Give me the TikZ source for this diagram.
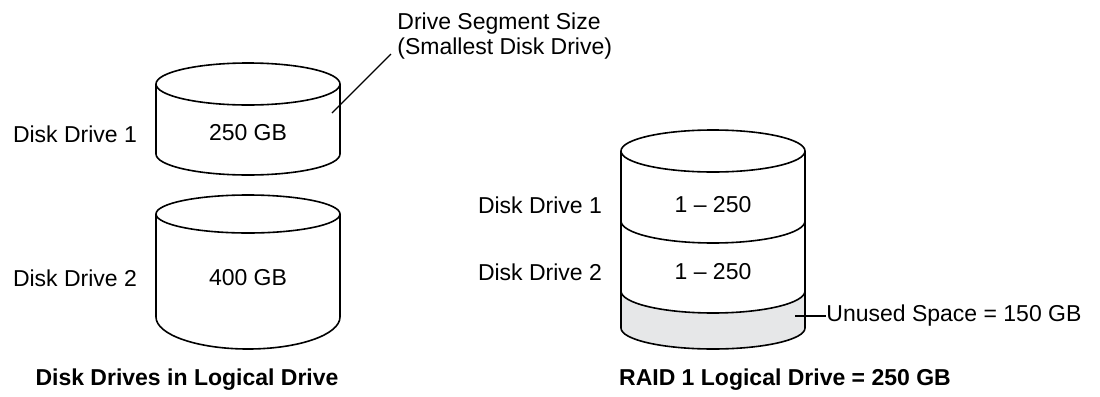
\documentclass[tikz,border=0pt]{standalone}
\usepackage{fontspec}
\setmainfont{Liberation Sans}
\usepackage{xcolor}
\usepackage{tikz}
\usetikzlibrary{positioning, calc}
\definecolor{unusedgray}{HTML}{E6E7E8}
\tikzstyle{disk} = [line width=0.8pt, draw=black, line join=round]
\tikzstyle{label} = [inner sep=0pt, font=\fontsize{11.5}{12.5}\selectfont]
\tikzstyle{caption} = [inner sep=0pt, font=\fontsize{11.5}{12.5}\selectfont\bfseries]
\tikzstyle{leader} = [line width=0.6pt]

\begin{document}
\begin{tikzpicture}[x=0.5pt, y=-0.5pt]
\useasboundingbox (0,0) rectangle (1100,397);

    % Disk Drive 1 (left)
    \draw [disk] (156,84) -- (156,154) arc[start angle=180, end angle=360, x radius=46pt, y radius=10.5pt] -- (340,84);
    \draw [disk] (248,84) ellipse [x radius=46pt, y radius=10.5pt];

    % Disk Drive 2 (left)
    \draw [disk] (156,214) -- (156,317) arc[start angle=180, end angle=360, x radius=46pt, y radius=16pt] -- (340,214);
    \draw [disk] (248,214) ellipse [x radius=46pt, y radius=9.5pt];

    % RAID 1 logical drive (right)
    \fill [unusedgray] (621,291) arc[start angle=180, end angle=360, x radius=46pt, y radius=11pt] -- (805,328) arc[start angle=360, end angle=180, x radius=46pt, y radius=10.5pt] -- cycle;
    \draw [disk] (621,151) -- (621,328) arc[start angle=180, end angle=360, x radius=46pt, y radius=10.5pt] -- (805,151);
    \draw [disk] (713,151) ellipse [x radius=46pt, y radius=10.5pt];
    \draw [disk] (621,221) arc[start angle=180, end angle=360, x radius=46pt, y radius=11pt];
    \draw [disk] (621,291) arc[start angle=180, end angle=360, x radius=46pt, y radius=11pt];

    % Labels (left)
    \node (dd1L) [label] at (75,134) {Disk Drive 1};
    \node (size1) [label] at (248,133) {250 GB};
    \node (dd2L) [label] at (75,278) {Disk Drive 2};
    \node (size2) [label] at (248,278) {400 GB};
    \node (segsize) [label, anchor=west, align=left] at (397,36) {Drive Segment Size\\(Smallest Disk Drive)};
    \node (capL) [caption] at (187,380) {Disk Drives in Logical Drive};

    % Labels (right)
    \node (dd1R) [label] at (540,205) {Disk Drive 1};
    \node (range1) [label] at (713,205) {1 -- 250};
    \node (dd2R) [label] at (540,272) {Disk Drive 2};
    \node (range2) [label] at (713,272) {1 -- 250};
    \node (unused) [label, anchor=west] at (826,316) {Unused Space = 150 GB};
    \node (capR) [caption] at (785,380) {RAID 1 Logical Drive = 250 GB};

    % Leaders
    \coordinate (segtip) at (332,113);
    \coordinate (segend) at (391,54);
    \coordinate (unusedtip) at (795,316);
    \draw [leader] (segtip) -- (segend);
    \draw [leader] (unusedtip) -- (unused.west);
\end{tikzpicture}
\end{document}
